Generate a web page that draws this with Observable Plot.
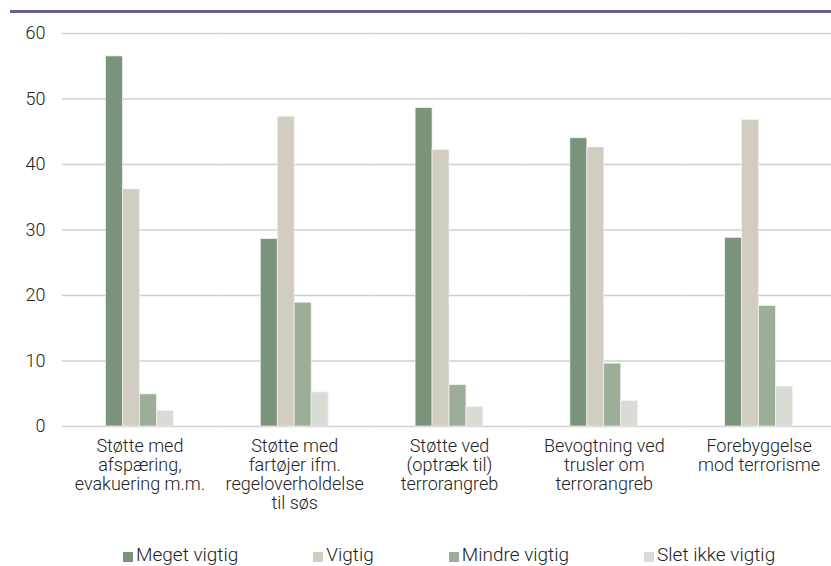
<!DOCTYPE html>
<html>
<head>
<meta charset="utf-8">
<script src="https://cdn.jsdelivr.net/npm/d3@7"></script>
<script src="https://cdn.jsdelivr.net/npm/@observablehq/plot@0.6"></script>
<style>
  html, body { margin: 0; padding: 0; background: #fff; width: 831px; height: 566px; overflow: hidden; }
  #topline { position: absolute; left: 10px; top: 10px; width: 821px; height: 3px; background: #6c5d92; }
  #chart { position: absolute; left: 0; top: 0; }
  #legend { position: absolute; left: 123px; top: 544px; width: 708px; display: flex; flex-wrap: nowrap; align-items: center; white-space: nowrap;
            font-family: Roboto, sans-serif; font-size: 19px; font-weight: 300; color: #222; line-height: 22px; }
  #legend .item { display: inline-flex; align-items: center; margin-right: 75px; flex-shrink: 0; }
  #legend .sw { display: inline-block; width: 10px; height: 10px; margin-right: 3px; margin-top: 3px; }
</style>
</head>
<body>
<div id="topline"></div>
<div id="chart"></div>
<div id="legend"></div>
<script>
const categories = [
  "Støtte med\nafspæring,\nevakuering m.m.",
  "Støtte med\nfartøjer ifm.\nregeloverholdelse\ntil søs",
  "Støtte ved\n(optræk til)\nterrorangreb",
  "Bevogtning ved\ntrusler om\nterrorangreb",
  "Forebyggelse\nmod terrorisme"
];
const series = ["Meget vigtig", "Vigtig", "Mindre vigtig", "Slet ikke vigtig"];
const megetVigtig = [56.5, 28.6, 48.6, 44.0, 28.8];
const vigtig = [36.2, 47.3, 42.2, 42.6, 46.8];
const mindreVigtig = [4.9, 18.9, 6.3, 9.6, 18.4];
const sletIkkeVigtig = [2.4, 5.2, 3.0, 3.9, 6.1];
const colors = ["#7a937a", "#d1cdc2", "#9dae98", "#d8dcd5"];
const yTicks = [0, 10, 20, 30, 40, 50, 60];

const seriesValues = [megetVigtig, vigtig, mindreVigtig, sletIkkeVigtig];
const data = categories.flatMap((c, i) => series.map((s, j) => ({category: c, series: s, value: seriesValues[j][i]})));

const chart = Plot.plot({
  width: 831,
  height: 510,
  marginTop: 33,
  marginBottom: 84,
  marginLeft: 62,
  marginRight: -5,
  style: {fontFamily: "Roboto, sans-serif", fontSize: "18px", fontWeight: 300, color: "#222", background: "transparent", overflow: "visible"},
  fx: {domain: categories, padding: 0, round: false, label: null},
  x: {domain: series, padding: 0, round: false, insetLeft: 43.5, insetRight: 43.5, axis: null},
  y: {domain: [0, 60], label: null},
  color: {domain: series, range: colors},
  marks: [
    Plot.gridY(yTicks, {stroke: "#cfcfcf", strokeOpacity: 1, strokeWidth: 1.3}),
    Plot.axisY(yTicks, {tickSize: 0, tickPadding: 17, label: null, fontSize: 18}),
    Plot.axisFx({anchor: "bottom", tickSize: 0, tickPadding: 12, label: null, fontSize: 18, lineHeight: 1.06}),
    Plot.barY(data, {fx: "category", x: "series", y: "value", fill: "series", stroke: "#f2f2ee", strokeWidth: 0.7})
  ]
});
document.getElementById("chart").appendChild(chart);

const colorScale = chart.scale("color");
const legendDiv = document.getElementById("legend");
series.forEach((s) => {
  const item = document.createElement("span");
  item.className = "item";
  const sw = document.createElement("span");
  sw.className = "sw";
  sw.style.background = colorScale.apply(s);
  item.appendChild(sw);
  item.appendChild(document.createTextNode(s));
  legendDiv.appendChild(item);
});
</script>
</body>
</html>
